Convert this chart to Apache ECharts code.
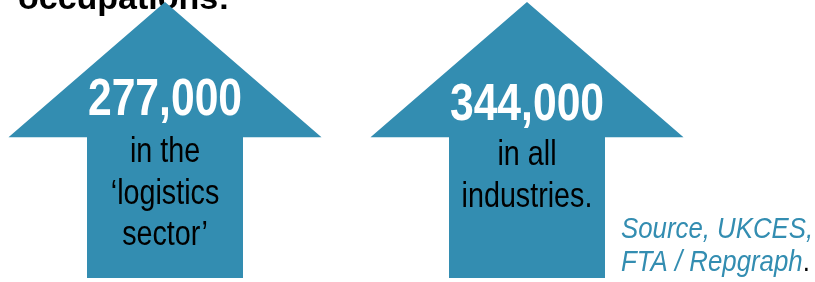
<!DOCTYPE html>
<html>
<head>
<meta charset="utf-8">
<script src="https://cdn.jsdelivr.net/npm/echarts@6/dist/echarts.min.js"></script>
<style>
  html, body { margin: 0; padding: 0; background: #fff; }
  #main { width: 815px; height: 282px; }
</style>
</head>
<body>
<div id="main"></div>
<script>
var myChart = echarts.init(document.getElementById('main'));

var categories = ['logistics sector', 'all industries'];
var jobs = [277000, 344000];
var captions = ['in the\n‘logistics\nsector’', 'in all\nindustries.'];
var arrowHeight = [1, 1]; // both arrows drawn the same size

var arrowColor = '#338db1';
var sans = '"Liberation Sans", Arial, sans-serif';
var narrowScale = 0.82; // Arial Narrow look from Liberation Sans

function renderArrow(params, api) {
    var top = api.coord([api.value(0), api.value(1)]);
    var bottom = api.coord([api.value(0), 0]);
    var cx = top[0];
    var h = bottom[1] - top[1];
    var headY = top[1] + h * 0.49;
    var headHalf = 156.5, shaftHalf = 78;
    var idx = params.dataIndex;
    var dy = idx === 1 ? 3 : 0; // second arrow's text sits a little lower
    return {
        type: 'group',
        children: [
            {
                type: 'polygon',
                shape: {
                    points: [
                        [cx, top[1]],
                        [cx + headHalf, headY],
                        [cx + shaftHalf, headY],
                        [cx + shaftHalf, bottom[1]],
                        [cx - shaftHalf, bottom[1]],
                        [cx - shaftHalf, headY],
                        [cx - headHalf, headY]
                    ]
                },
                style: { fill: arrowColor }
            },
            {
                type: 'text',
                x: cx,
                y: top[1] + 99 + dy + (idx === 1 ? 2 : 0),
                scaleX: narrowScale,
                style: {
                    text: echarts.format.addCommas(api.value(2)),
                    fill: '#fff',
                    font: 'bold 52px ' + sans,
                    align: 'center',
                    verticalAlign: 'middle'
                }
            },
            {
                type: 'text',
                x: cx,
                y: top[1] + 130 + dy,
                scaleX: narrowScale,
                style: {
                    text: captions[idx],
                    fill: '#000',
                    font: '35px ' + sans,
                    lineHeight: 41.5,
                    align: 'center',
                    verticalAlign: 'top'
                }
            }
        ]
    };
}

option = {
    backgroundColor: '#fff',
    animation: false,
    title: {
        text: 'occupations:',
        left: 18,
        top: -17,
        padding: 0,
        textStyle: {
            fontFamily: sans,
            fontWeight: 'bold',
            fontSize: 34,
            lineHeight: 34,
            color: '#000'
        },
        z: 0
    },
    graphic: [
        {
            type: 'text',
            x: 621,
            y: 213,
            scaleX: 0.86,
            style: {
                text: '{a|Source, UKCES,}\n{a|FTA / Repgraph}{b|.}',
                rich: {
                    a: {
                        fontFamily: sans,
                        fontStyle: 'italic',
                        fontWeight: 'normal',
                        fontSize: 30,
                        lineHeight: 33,
                        fill: '#338db1'
                    },
                    b: {
                        fontFamily: sans,
                        fontWeight: 'normal',
                        fontSize: 30,
                        lineHeight: 33,
                        fill: '#000'
                    }
                }
            }
        }
    ],
    grid: {
        left: 165,
        right: 288,
        top: 2,
        bottom: 4
    },
    xAxis: {
        type: 'category',
        data: categories,
        boundaryGap: false,
        show: false
    },
    yAxis: {
        type: 'value',
        min: 0,
        max: 1,
        show: false
    },
    series: [
        {
            type: 'custom',
            renderItem: renderArrow,
            z: 5,
            data: categories.map(function (c, i) {
                return [i, arrowHeight[i], jobs[i]];
            })
        }
    ]
};

myChart.setOption(option);
</script>
</body>
</html>
